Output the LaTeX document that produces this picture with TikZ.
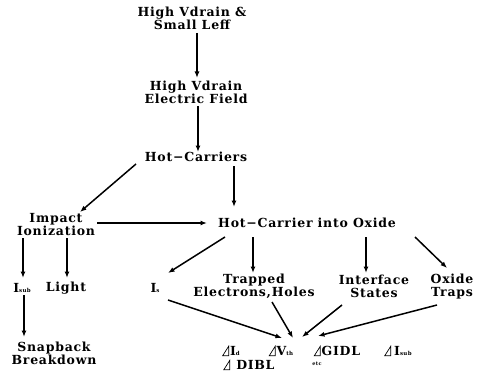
\documentclass[tikz,border=0pt]{standalone}
\usepackage{fontspec}
\setmainfont{DejaVu Serif}[LetterSpace=6]
\usetikzlibrary{arrows.meta,calc}
\begin{document}
\begin{tikzpicture}[x=1pt,y=-1pt,
  lbl/.style={font=\bfseries\fontsize{12.5}{13}\selectfont,align=center,inner sep=0pt},
  arr/.style={-{Latex[length=6.5pt,width=5pt]},line width=1.5pt},
]
\useasboundingbox (0,0) rectangle (478,382);
\newcommand{\sbs}[1]{{\fontsize{5.5}{5.5}\selectfont #1}}
\newcommand{\dlt}{\tikz[baseline=0pt,x=1pt,y=1pt]\draw[line width=0.7pt,line join=miter] (0,0) -- (6,0) -- (6,9.5) -- cycle;\kern1pt}
\node[lbl] (top) at (192,18.5) {High Vdrain \&\\Small Leff};
\node[lbl] (field) at (196,92.5) {High Vdrain\\Electric Field};
\node[lbl] (hc) at (196,157) {Hot−Carriers};
\node[lbl] (ii) at (56,225) {Impact\\Ionization};
\node[lbl] (hco) at (307,223) {Hot−Carrier into Oxide};
\node[lbl] (isub) at (22,288) {I\sbs{sub}};
\node[lbl] (light) at (66,288) {Light};
\node[lbl] (snap) at (54,353.5) {Snapback\\Breakdown};
\node[lbl] (is) at (155,288) {I\sbs{s}};
\node[lbl] (trap) at (254,286.5) {Trapped\\Electrons,Holes};
\node[lbl] (intf) at (374,286.5) {Interface\\States};
\node[lbl] (oxt) at (452,286.5) {Oxide\\Traps};
\node[lbl] (did) at (231,351) {\dlt I\sbs{d}};
\node[lbl] (dvth) at (281,351) {\dlt V\sbs{th}};
\node[lbl] (dgidl) at (337,351) {\dlt GIDL};
\node[lbl] (disub) at (398,351) {\dlt\,I\sbs{sub}};
\node[lbl] (ddibl) at (249,365) {\dlt\ DIBL};
\node[lbl,font=\bfseries\fontsize{5}{5}\selectfont] (etc) at (317,364) {etc};

\draw[arr] ($(top)+(5,14.5)$) -- ($(field)+(1,-14.5)$);
\draw[arr] ($(field)+(2,13.5)$) -- ($(hc)+(2,-5)$);
\draw[arr] ($(hc)+(-60,7)$) -- ($(ii)+(24,-13)$);
\draw[arr] ($(hc)+(38,9)$) -- ($(hco)+(-73,-16)$);
\draw[arr] ($(ii)+(41,-2)$) -- ($(hco)+(-100,0)$);
\draw[arr] ($(hco)+(-82,14)$) -- ($(is)+(13,-15)$);
\draw[arr] ($(hco)+(-54,14)$) -- ($(trap)+(-1,-13.5)$);
\draw[arr] ($(hco)+(59,14)$) -- ($(intf)+(-8,-13.5)$);
\draw[arr] ($(hco)+(108,14)$) -- ($(oxt)+(-5,-18.5)$);
\draw[arr] ($(ii)+(-33,13)$) -- ($(isub)+(1,-10)$);
\draw[arr] ($(ii)+(11,13)$) -- ($(light)+(1,-10)$);
\draw[arr] ($(isub)+(2,7)$) -- ($(snap)+(-30,-16.5)$);
\draw[arr] ($(is)+(13,12)$) -- ($(dvth)+(1,-13)$);
\draw[arr] ($(trap)+(18,15.5)$) -- ($(dvth)+(12,-13)$);
\draw[arr] ($(intf)+(-32,18.5)$) -- ($(dvth)+(21,-14)$);
\draw[arr] ($(oxt)+(-15,18.5)$) -- ($(dvth)+(37,-15)$);
\end{tikzpicture}
\end{document}
